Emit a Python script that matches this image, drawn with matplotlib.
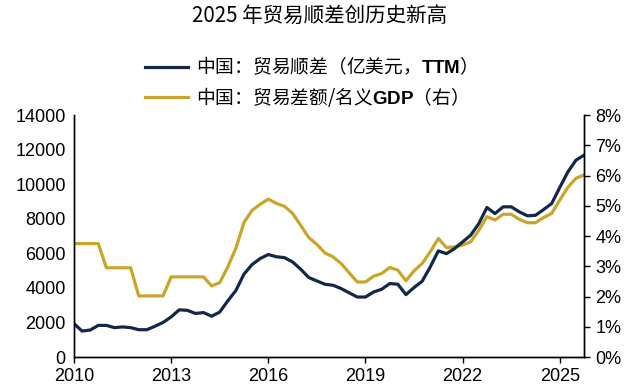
import numpy as np
import matplotlib.pyplot as plt
from matplotlib.ticker import FuncFormatter, MultipleLocator

plt.rcParams['font.family'] = ['Liberation Sans', 'Noto Sans CJK SC', 'DejaVu Sans']
plt.rcParams['mathtext.fontset'] = 'custom'
plt.rcParams['mathtext.bf'] = 'Liberation Sans:bold'

# 季度数据 2010Q1 - 2025Q4
years = 2010 + np.arange(64) * 0.25

# 中国：贸易顺差（亿美元，TTM）
surplus = [1930, 1500, 1560, 1830, 1830, 1700, 1740, 1700,
           1580, 1580, 1780, 2000, 2320, 2730, 2700, 2520,
           2570, 2360, 2600, 3250, 3850, 4800, 5350, 5700,
           5930, 5800, 5750, 5500, 5080, 4600, 4400, 4210,
           4150, 3960, 3710, 3470, 3470, 3760, 3920, 4250,
           4210, 3610, 4020, 4380, 5210, 6140, 5980, 6270,
           6660, 7050, 7720, 8650, 8300, 8690, 8690, 8400,
           8170, 8200, 8530, 8880, 9810, 10710, 11390, 11680]

# 中国：贸易差额/名义GDP（%，右轴）
ratio = [3.75, 3.75, 3.75, 3.75, 2.95, 2.95, 2.95, 2.95,
         2.02, 2.02, 2.02, 2.02, 2.65, 2.65, 2.65, 2.65,
         2.65, 2.35, 2.46, 2.98, 3.60, 4.45, 4.85, 5.05,
         5.22, 5.08, 4.98, 4.75, 4.35, 3.95, 3.72, 3.44,
         3.31, 3.09, 2.78, 2.48, 2.48, 2.67, 2.76, 2.96,
         2.87, 2.52, 2.85, 3.09, 3.48, 3.92, 3.62, 3.64,
         3.70, 3.81, 4.19, 4.64, 4.53, 4.72, 4.72, 4.55,
         4.44, 4.44, 4.61, 4.75, 5.19, 5.61, 5.91, 6.02]

navy = '#13274a'
gold = '#c9a52a'

fig = plt.figure(figsize=(6.4, 3.9), dpi=100)
ax = fig.add_axes([0.1156, 0.0846, 0.797, 0.6204])
ax2 = ax.twinx()

l2, = ax2.plot(years, ratio, color=gold, lw=2.3,
               label=r'中国：贸易差额/名义$\mathbf{GDP}$（右）')
l1, = ax.plot(years, surplus, color=navy, lw=2.3,
              label=r'中国：贸易顺差（亿美元，$\mathbf{TTM}$）')
ax.set_zorder(ax2.get_zorder() + 1)
ax.patch.set_visible(False)

ax.set_xlim(2010, 2025.75)
ax.set_ylim(0, 14000)
ax.yaxis.set_major_locator(MultipleLocator(2000))
ax.set_xticks([2010, 2013, 2016, 2019, 2022, 2025])
ax.xaxis.set_major_formatter(FuncFormatter(lambda v, p: f'{int(v)}'))
ax2.set_ylim(0, 8)
ax2.yaxis.set_major_locator(MultipleLocator(1))
ax2.yaxis.set_major_formatter(FuncFormatter(lambda v, p: f'{int(v)}%'))

for a in (ax, ax2):
    a.spines['top'].set_visible(False)
    for s in a.spines.values():
        s.set_linewidth(1.0)
    a.tick_params(labelsize=13, length=4, width=1, colors='black')
ax.tick_params(axis='y', length=0, pad=6)
ax.tick_params(axis='x', pad=4)
ax2.tick_params(axis='y', pad=4)

fig.text(0.5, 0.958, '2025 年贸易顺差创历史新高', ha='center', va='center',
         fontsize=14.8, family=['Noto Sans CJK SC', 'DejaVu Sans'])

fig.legend(handles=[l1, l2], loc='upper left', bbox_to_anchor=(0.2266, 0.858),
           frameon=False, prop={'family': 'Noto Sans CJK SC', 'size': 13.5},
           handlelength=2.3, handletextpad=0.4,
           labelspacing=0.36, borderaxespad=0, borderpad=0)

fig.savefig('out.png', dpi=100)
